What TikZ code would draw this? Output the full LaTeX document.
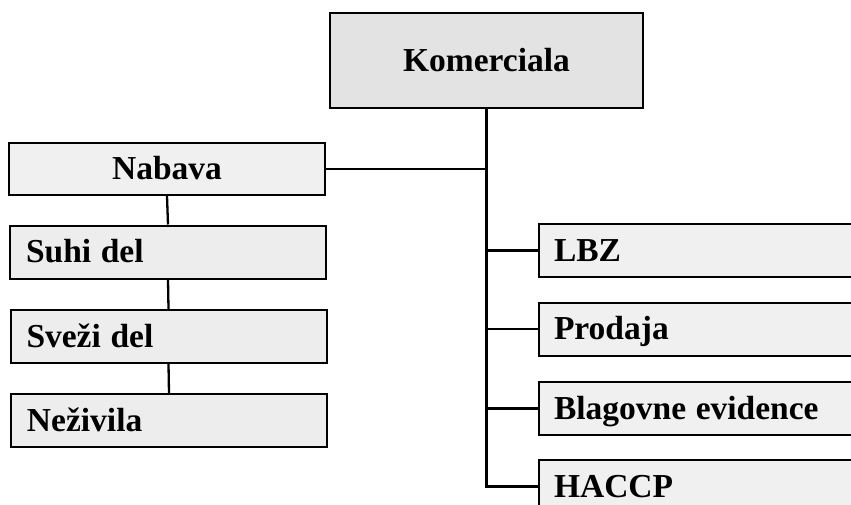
\documentclass[tikz,border=0pt]{standalone}
\usepackage{fontspec}
\setmainfont{Liberation Serif}
\begin{document}
\begin{tikzpicture}[x=1pt,y=-1pt,
  box/.style={draw=black, line width=2pt, inner sep=0pt, text height=22pt, text depth=0.5pt,
     font=\fontsize{33.5pt}{40pt}\selectfont\bfseries},
  lbox/.style={box, fill=black!7, minimum width=316pt, minimum height=53pt, text width=284pt, align=left},
  rbox/.style={box, fill=black!6, minimum width=330pt, minimum height=53pt, text width=300pt, align=left},
  conn/.style={line width=2.3pt}]
\useasboundingbox (0,0) rectangle (851,504);
\clip (0,0) rectangle (851,504);
\fill[white] (0,0) rectangle (851,504);
\node[box, fill=black!11, minimum width=313pt, minimum height=95pt] (kom) at (486.5,60.5) {Komerciala};
\node[box, fill=black!6, minimum width=316pt, minimum height=52pt] (nab) at (167,169) {Nabava};
\node[lbox] (suhi) at (168,252) {Suhi\hspace{-1.5pt} del};
\node[lbox] (svezi) at (168.5,336.5) {Sveži\hspace{-1.5pt} del};
\node[lbox] (nez) at (169,420.5) {Neživila};
\node[rbox] (lbz) at (704,250.5) {LBZ};
\node[rbox] (prod) at (704,329) {Prodaja};
\node[rbox] (blag) at (704,408.5) {Blagovne\hspace{-1.5pt} evidence};
\node[rbox] (hac) at (704,486.5) {HACCP};
\draw[conn] (kom.south) |- (hac.west);
\draw[conn] (nab.east) -- (nab.east -| kom.south);
\draw[conn] (lbz.west) -- (lbz.west -| kom.south);
\draw[conn] (prod.west) -- (prod.west -| kom.south);
\draw[conn] (blag.west) -- (blag.west -| kom.south);
\draw[conn] (nab.south) -- (suhi.north);
\draw[conn] (suhi.south) -- (svezi.north);
\draw[conn] (svezi.south) -- (nez.north);
\end{tikzpicture}
\end{document}
